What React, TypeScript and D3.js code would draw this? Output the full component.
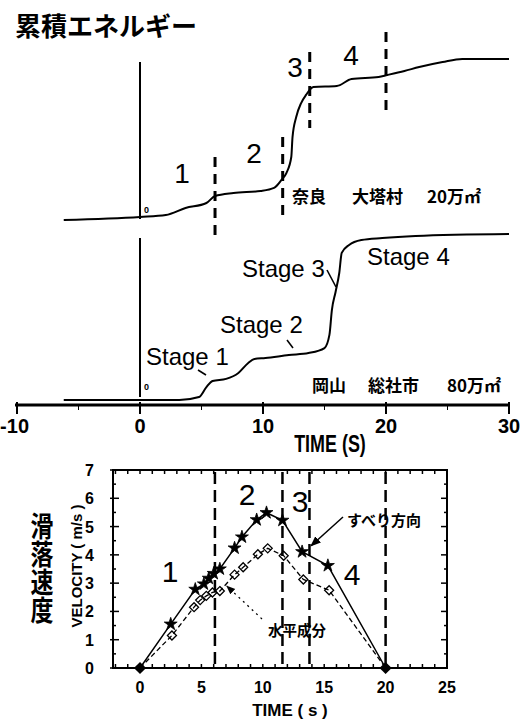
import React from 'react';
import * as d3 from 'd3';

// cumulative energy, relative units (0-100) vs time (s)
const naraTime = [-6.2, 0, 2.1, 3.7, 5.4, 6.1, 7.6, 9.8, 10.9, 11.5, 11.9, 12.3, 12.4, 12.7, 13.1, 13.5, 14.1, 16.0, 17.2, 19.4, 20.1, 21.5, 22.7, 24.6, 26.2, 30];
const naraEnergy = [0, 1.9, 3.1, 7.4, 10.5, 14.8, 16.7, 17.9, 19.8, 24.7, 29, 38.9, 51.2, 63.6, 72.2, 77.2, 82.1, 82.7, 87, 88.3, 89.5, 92, 94.4, 97.5, 99.4, 99.4];

const sojaTime = [-6.2, 0, 3.2, 4.8, 5.4, 5.9, 7.0, 8.0, 8.8, 9.3, 10.2, 12.1, 13.7, 15.0, 15.4, 15.6, 15.9, 16.2, 16.4, 17.0, 18.0, 19.7, 22.4, 30];
const sojaEnergy = [0, 0, 0, 1.8, 7.8, 11.4, 12.7, 16.3, 22.3, 24.7, 25.3, 27.1, 28.3, 31.3, 39.2, 54.2, 65.1, 76.5, 88.6, 93.4, 96.4, 97.6, 98.8, 100];

// stage boundaries (s)
const stageBounds = [6.1, 11.6, 13.8, 20];
const stageNums = ['1', '2', '3', '4'];
const stageNames = ['Stage 1', 'Stage 2', 'Stage 3', 'Stage 4'];

// velocity (m/s): slip direction and horizontal component
const slipTime = [0, 2.5, 4.5, 5.2, 5.6, 6.0, 6.5, 7.7, 8.3, 9.5, 10.3, 11.6, 13.2, 15.3, 20];
const slipVel = [0, 1.55, 2.78, 2.97, 3.17, 3.34, 3.5, 4.24, 4.63, 5.24, 5.49, 5.22, 4.11, 3.62, 0];
const horizTime = [0, 2.6, 4.4, 4.9, 5.4, 5.9, 6.5, 7.7, 8.4, 9.6, 10.4, 11.7, 13.3, 15.4, 20];
const horizVel = [0, 1.15, 2.15, 2.4, 2.55, 2.67, 2.72, 3.3, 3.56, 4.02, 4.23, 3.97, 3.13, 2.75, 0];

const topTicks = [-10, 0, 10, 20, 30];
const topMinor = [-5, 5, 15, 25];
const velXTicks = [0, 5, 10, 15, 20, 25];
const velYTicks = [0, 1, 2, 3, 4, 5, 6, 7];

const JP = '"Noto Sans CJK JP", sans-serif';
const SANS = '"Liberation Sans", Arial, sans-serif';

export default function App() {
  const W = 526, H = 719;

  // --- scales ---
  const tx = d3.scaleLinear().domain([-10, 30]).range([17, 509]);
  const yNara = d3.scaleLinear().domain([0, 100]).range([220, 58]);
  const ySoja = d3.scaleLinear().domain([0, 100]).range([400, 234]);
  const vx = d3.scaleLinear().domain([-2.2, 25]).range([113, 447]);
  const vy = d3.scaleLinear().domain([0, 7]).range([668, 470]);

  const energyLine = (ts: number[], es: number[], ys: d3.ScaleLinear<number, number>) =>
    d3.line<number>()
      .x((_, i) => tx(ts[i]))
      .y(d => ys(d))
      .curve(d3.curveMonotoneX)(es) || '';

  const velLine = (ts: number[], vs: number[]) =>
    d3.line<number>().x((_, i) => vx(ts[i])).y(d => vy(d))(vs) || '';

  const star = d3.symbol(d3.symbolStar, 52)() || '';
  const openDiamond = d3.symbol(d3.symbolDiamond2, 52)() || '';
  const fillDiamond = d3.symbol(d3.symbolDiamond2, 95)() || '';

  // dashed stage lines in the upper panel (vertical extent, px)
  const topDashExtent = [[157, 237], [137, 215], [52, 128], [32, 110]];
  const topNumPos = [[182, 183], [254, 163], [295, 77], [351, 65]];
  const velNumPos = [[170, 582], [247, 505], [300, 512], [352, 585]];
  const stagePos = [[146, 365], [220, 333], [242, 277], [367, 265]];
  const leaders = [[198, 370, 206, 375], [287, 340, 293, 348], [327, 270, 336, 287]];

  // minor ticks for the velocity frame
  const xMinor = d3.range(-2, 26, 1);
  const yMinor = d3.range(0, 7.01, 0.5);

  const [x0, x1] = vx.range();
  const [yb, yt] = vy.range();

  // arrow targets
  const slipTip = [vx(13.2) + 9, vy(4.11) - 6];
  const horizTip = [vx(6.5) + 7, vy(2.72) - 5];

  return (
    <svg width={W} height={H} style={{ position: 'absolute', left: 0, top: 0, background: '#fff' }}>
      <defs>
        <marker id="ah" viewBox="0 0 10 10" refX="9" refY="5" markerWidth="7" markerHeight="7" orient="auto-start-reverse">
          <path d="M0,1 L10,5 L0,9 Z" fill="#000" />
        </marker>
      </defs>
      <rect width={W} height={H} fill="#fff" />

      {/* title */}
      <text x={15} y={36} fontFamily={JP} fontWeight={700} fontSize={26}>累積エネルギー</text>

      {/* --- upper panel: 奈良 大塔村 --- */}
      <line x1={tx(0)} x2={tx(0)} y1={62} y2={yNara(0) - 1} stroke="#000" strokeWidth={2} />
      <text x={tx(0) + 4} y={213} fontFamily={SANS} fontWeight={700} fontSize={9}>0</text>
      <path d={energyLine(naraTime, naraEnergy, yNara)} fill="none" stroke="#000" strokeWidth={2} />
      {stageBounds.map((b, i) => (
        <line key={i} x1={tx(b)} x2={tx(b)} y1={topDashExtent[i][0]} y2={topDashExtent[i][1]}
          stroke="#000" strokeWidth={3} strokeDasharray="10,7" />
      ))}
      {stageNums.map((s, i) => (
        <text key={i} x={topNumPos[i][0]} y={topNumPos[i][1]} textAnchor="middle"
          fontFamily={SANS} fontSize={28}>{s}</text>
      ))}
      <g fontFamily={JP} fontWeight={700} fontSize={17}>
        <text x={292} y={203}>奈良</text>
        <text x={352} y={203}>大塔村</text>
        <text x={427} y={203}>20万㎡</text>
      </g>

      {/* --- lower panel: 岡山 総社市 --- */}
      <line x1={tx(0)} x2={tx(0)} y1={238} y2={ySoja(0) - 3} stroke="#000" strokeWidth={2} />
      <text x={tx(0) + 4} y={390} fontFamily={SANS} fontWeight={700} fontSize={9}>0</text>
      <path d={energyLine(sojaTime, sojaEnergy, ySoja)} fill="none" stroke="#000" strokeWidth={2} />
      {stageNames.map((s, i) => (
        <text key={i} x={stagePos[i][0]} y={stagePos[i][1]} fontFamily={SANS} fontSize={24}>{s}</text>
      ))}
      {leaders.map((l, i) => (
        <line key={i} x1={l[0]} y1={l[1]} x2={l[2]} y2={l[3]} stroke="#000" strokeWidth={1.6} />
      ))}
      <g fontFamily={JP} fontWeight={700} fontSize={17}>
        <text x={312} y={392}>岡山</text>
        <text x={368} y={392}>総社市</text>
        <text x={447} y={392}>80万㎡</text>
      </g>

      {/* time axis */}
      <line x1={15} x2={509} y1={405} y2={405} stroke="#000" strokeWidth={3} />
      {topTicks.map(t => (
        <g key={t}>
          <line x1={tx(t)} x2={tx(t)} y1={402} y2={414} stroke="#000" strokeWidth={2} />
          <text x={t < 0 ? tx(t) + 12 : tx(t)} y={433} textAnchor={t < 0 ? 'end' : 'middle'} fontFamily={SANS}
            fontWeight={700} fontSize={20}>{t}</text>
        </g>
      ))}
      {topMinor.map(t => (
        <line key={t} x1={tx(t)} x2={tx(t)} y1={405} y2={410} stroke="#000" strokeWidth={1} />
      ))}
      <text transform="translate(330,452) scale(0.78,1)" textAnchor="middle" fontFamily={SANS}
        fontWeight={700} fontSize={23}>TIME (S)</text>

      {/* --- velocity chart --- */}
      <rect x={x0} y={yt} width={x1 - x0} height={yb - yt} fill="none" stroke="#000" strokeWidth={2} />
      {xMinor.map(t => (
        <g key={t}>
          <line x1={vx(t)} x2={vx(t)} y1={yb} y2={yb - 4} stroke="#000" strokeWidth={1.5} />
          <line x1={vx(t)} x2={vx(t)} y1={yt} y2={yt + 4} stroke="#000" strokeWidth={1.5} />
        </g>
      ))}
      {yMinor.map(v => {
        const len = Number.isInteger(v) ? 6 : 3;
        return (
          <g key={v}>
            <line x1={x0 - (Number.isInteger(v) ? 3 : 0)} x2={x0 + len} y1={vy(v)} y2={vy(v)} stroke="#000" strokeWidth={1.5} />
            <line x1={x1} x2={x1 - len} y1={vy(v)} y2={vy(v)} stroke="#000" strokeWidth={1.5} />
          </g>
        );
      })}
      {velXTicks.map(t => (
        <text key={t} x={vx(t)} y={693} textAnchor="middle" fontFamily={SANS} fontWeight={700} fontSize={16}>{t}</text>
      ))}
      {velYTicks.map(v => (
        <text key={v} x={94} y={vy(v) + 6} textAnchor="end" fontFamily={SANS} fontWeight={700} fontSize={16}>{v}</text>
      ))}
      <text x={290} y={716} textAnchor="middle" fontFamily={SANS} fontWeight={700} fontSize={17}>TIME ( s )</text>
      <text transform="translate(82,566) rotate(-90)" textAnchor="middle" fontFamily={SANS}
        fontWeight={700} fontSize={15}>VELOCITY ( m/s )</text>
      <text transform="translate(42,512) scale(0.82,1)" x={0} y={0} fontFamily={JP} fontWeight={700}
        fontSize={28} style={{ writingMode: 'vertical-rl' }}>滑落速度</text>

      {/* stage boundaries */}
      {stageBounds.map((b, i) => (
        <line key={i} x1={vx(b)} x2={vx(b)} y1={yt + 2} y2={yb} stroke="#000" strokeWidth={2.5} strokeDasharray="12,6" />
      ))}
      {stageNums.map((s, i) => (
        <text key={i} x={velNumPos[i][0]} y={velNumPos[i][1]} textAnchor="middle" fontFamily={SANS} fontSize={30}>{s}</text>
      ))}

      {/* series */}
      <path d={velLine(horizTime, horizVel)} fill="none" stroke="#000" strokeWidth={1.3} strokeDasharray="5,3" />
      <path d={velLine(slipTime, slipVel)} fill="none" stroke="#000" strokeWidth={1.5} />
      {horizTime.slice(1, -1).map((t, i) => (
        <path key={i} d={openDiamond} transform={`translate(${vx(t)},${vy(horizVel[i + 1])})`}
          fill="none" stroke="#000" strokeWidth={1.3} />
      ))}
      {slipTime.slice(1, -1).map((t, i) => (
        <path key={i} d={star} transform={`translate(${vx(t)},${vy(slipVel[i + 1])})`} fill="#000" stroke="#000" strokeWidth={0.8} />
      ))}
      {[0, slipTime.length - 1].map(i => (
        <path key={i} d={fillDiamond} transform={`translate(${vx(slipTime[i])},${vy(slipVel[i])})`} fill="#000" />
      ))}

      {/* annotations */}
      <line x1={343} y1={517} x2={slipTip[0]} y2={slipTip[1]} stroke="#000" strokeWidth={1.5} markerEnd="url(#ah)" />
      <text x={347} y={526} fontFamily={JP} fontWeight={700} fontSize={15}>すべり方向</text>
      <line x1={262} y1={619} x2={horizTip[0]} y2={horizTip[1]} stroke="#000" strokeWidth={1.3}
        strokeDasharray="2,4" markerEnd="url(#ah)" />
      <text x={268} y={636} fontFamily={JP} fontWeight={700} fontSize={14.5}>水平成分</text>
    </svg>
  );
}
